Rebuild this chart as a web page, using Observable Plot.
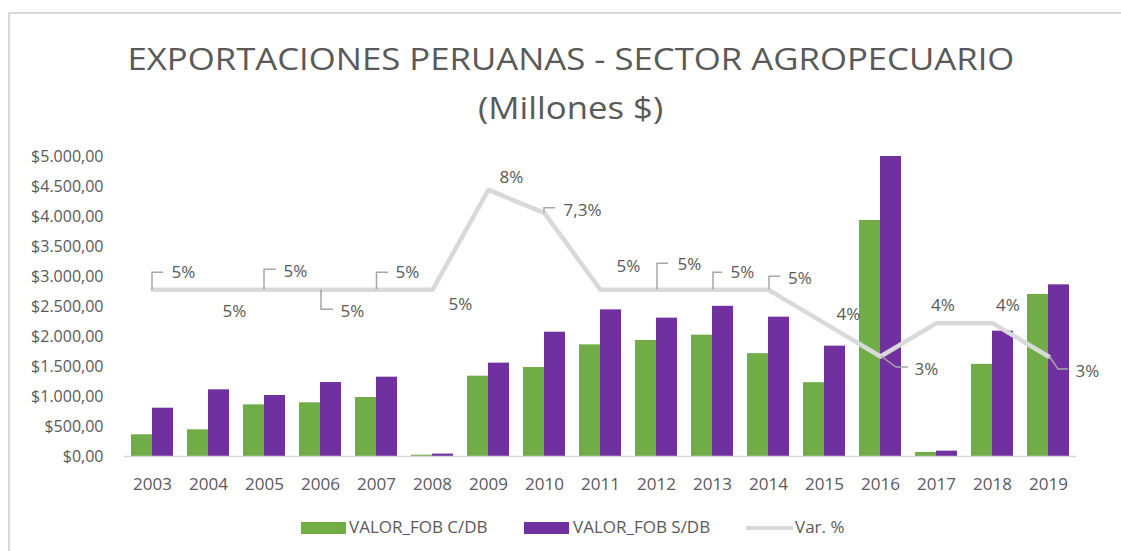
<!DOCTYPE html>
<html><head><meta charset="utf-8">
<script src="https://cdn.jsdelivr.net/npm/d3@7"></script>
<script src="https://cdn.jsdelivr.net/npm/@observablehq/plot@0.6"></script>
<style>
body{margin:0;background:#fff;font-family:"Open Sans",sans-serif;color:#595959;}
#wrap{position:relative;width:1121px;height:551px;overflow:hidden;}
#frame{position:absolute;left:8px;top:12px;width:1200px;height:600px;border-top:2px solid #d9d9d9;border-left:2px solid #d9d9d9;}
.title{position:absolute;left:10px;width:1121px;text-align:center;font-size:31px;line-height:49px;white-space:nowrap;}
.title span{display:inline-block;transform:scaleX(1.12);}
#chart{position:absolute;left:0;top:140px;}
.sw{position:absolute;}
.lt{position:absolute;top:518px;font-size:17px;line-height:18px;white-space:nowrap;}
</style></head><body>
<div id="wrap">
<div id="frame"></div>
<div class="title" style="top:34px"><span>EXPORTACIONES PERUANAS - SECTOR AGROPECUARIO</span></div>
<div class="title" style="top:83px"><span>(Millones $)</span></div>
<div id="chart"></div>
<div id="legend"></div>
</div>
<script>
// ---- data ----
const years = ["2003","2004","2005","2006","2007","2008","2009","2010","2011","2012","2013","2014","2015","2016","2017","2018","2019"];
const fobCDB = [362, 445, 861, 895, 983, 22, 1339, 1483, 1861, 1933, 2022, 1714, 1230, 3933, 67, 1536, 2700];
const fobSDB = [805, 1111, 1017, 1233, 1322, 40, 1556, 2072, 2444, 2306, 2503, 2322, 1839, 5000, 89, 2089, 2861];
const varPct = [5, 5, 5, 5, 5, 5, 8, 7.3, 5, 5, 5, 5, 4, 3, 4, 4, 3];
const yTicks = [0, 500, 1000, 1500, 2000, 2500, 3000, 3500, 4000, 4500, 5000];
const seriesNames = ["VALOR_FOB C/DB", "VALOR_FOB S/DB", "Var. %"];
const colors = ["#70ad47", "#7030a0", "#d9d9d9"];

// ---- label layout (pixel offsets from each line point) ----
const labelPlace = [
  {dx:31, dy:-17, leader:[[0,0],[0,-17],[11,-17]]},
  {dx:26, dy:22, leader:null},
  {dx:31, dy:-18, leader:[[0,0],[0,-20],[12,-20]]},
  {dx:32, dy:22, leader:[[1,0],[1,20],[13,20]]},
  {dx:31, dy:-17, leader:[[0.5,0],[0.5,-17],[12,-17]]},
  {dx:28, dy:15, leader:null},
  {dx:23, dy:-12, leader:null},
  {dx:38, dy:-3, leader:[[0,0],[0,-5],[11,-5]]},
  {dx:28, dy:-23, leader:null},
  {dx:33, dy:-25, leader:[[1,0],[1,-26],[12,-26]]},
  {dx:30, dy:-17, leader:[[1,0],[1,-17],[10,-17]]},
  {dx:31.5, dy:-11, leader:[[1,0],[1,-13],[12,-13]]},
  {dx:24, dy:-9, leader:null},
  {dx:46, dy:13, leader:[[1,0],[16,11],[28,11]]},
  {dx:6.5, dy:-18, leader:null},
  {dx:15.5, dy:-18, leader:null},
  {dx:39, dy:15, leader:[[1,0],[10,13],[20,13]]}
];

const rows = years.map((year, i) => ({year, cdb: fobCDB[i], sdb: fobSDB[i], pct: varPct[i]}));
const PCT_MAX = 9, Y_MAX = 5000; // secondary axis 0–9% shares the 0–5000 height
const toY = p => p * Y_MAX / PCT_MAX;
const loc = d3.formatLocale({decimal: ",", thousands: ".", grouping: [3], currency: ["$", ""]});
const money = loc.format("$,.2f");
const pctFmt = p => String(p).replace(".", ",") + "%";

const plot = Plot.plot({
  width: 1121, height: 370,
  marginTop: 16, marginBottom: 54, marginLeft: 124, marginRight: 45,
  style: {fontFamily: "'Open Sans', sans-serif", fontSize: "16px", color: "#595959", background: "transparent"},
  x: {type: "band", domain: years, paddingInner: 0.25, paddingOuter: 0.125, label: null},
  y: {domain: [0, Y_MAX], label: null},
  marks: [
    Plot.barY(rows, {x: "year", y: "cdb", fill: colors[0], insetRight: 21}),
    Plot.barY(rows, {x: "year", y: "sdb", fill: colors[1], insetLeft: 21}),
    Plot.ruleY([0], {stroke: "#d9d9d9", strokeWidth: 1.5}),
    Plot.line(rows, {x: "year", y: d => toY(d.pct), stroke: colors[2], strokeWidth: 4.5, strokeLinejoin: "round"}),
    ...rows.map((d, i) => Plot.text([d], {
      x: "year", y: r => toY(r.pct), text: r => pctFmt(r.pct),
      dx: labelPlace[i].dx, dy: labelPlace[i].dy, fontSize: 17, fill: "#595959"
    })),
    Plot.axisY(yTicks, {tickSize: 0, tickPadding: 21, tickFormat: money, fontSize: 16, label: null}),
    Plot.axisX({tickSize: 0, tickPadding: 21, fontSize: 17, label: null})
  ]
});

// leader lines from points to labels, positioned through the plot's scales
const sx = plot.scale("x"), sy = plot.scale("y");
const g = d3.select(plot).append("g").attr("fill", "none").attr("stroke", "#a6a6a6").attr("stroke-width", 1.5);
rows.forEach((d, i) => {
  const L = labelPlace[i].leader;
  if (!L) return;
  const cx = sx.apply(d.year) + sx.bandwidth / 2;
  const cy = sy.apply(toY(d.pct));
  g.append("path").attr("d", "M" + L.map(([a, b]) => `${cx + a},${cy + b}`).join("L"));
});
document.getElementById("chart").appendChild(plot);

// legend
const legend = document.getElementById("legend");
const legItems = [
  {sw: {left: 301, top: 522, width: 45, height: 12}, text: 349},
  {sw: {left: 524, top: 522, width: 45, height: 12}, text: 573},
  {sw: {left: 746, top: 526, width: 47, height: 4}, text: 795}
];
legItems.forEach((it, i) => {
  const s = document.createElement("div");
  s.className = "sw";
  Object.assign(s.style, {left: it.sw.left + "px", top: it.sw.top + "px", width: it.sw.width + "px", height: it.sw.height + "px", background: colors[i]});
  legend.appendChild(s);
  const t = document.createElement("div");
  t.className = "lt";
  t.style.left = it.text + "px";
  t.textContent = seriesNames[i];
  legend.appendChild(t);
});
</script>
</body></html>
